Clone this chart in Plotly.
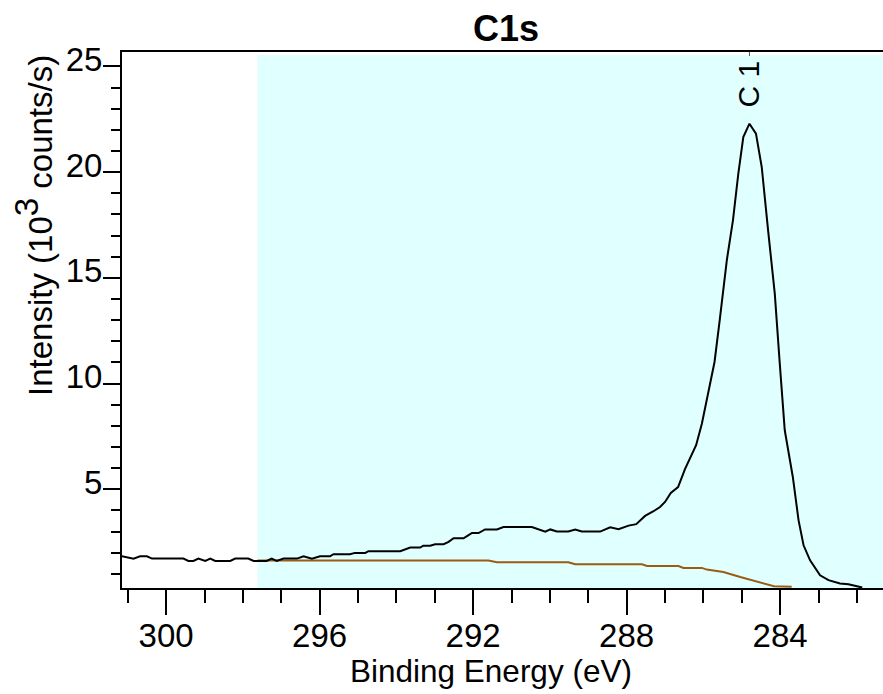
import plotly.graph_objects as go

# Spectrum (binding energy in eV, intensity in 10^3 counts/s)
energy = [301.15, 300.85, 300.68, 300.50, 300.37, 299.55, 299.42, 299.29, 299.16, 298.98,
          298.85, 298.72, 298.33, 298.20, 297.86, 297.72, 297.38, 297.25, 297.12, 296.94,
          296.59, 296.42, 296.20, 295.99, 295.73, 295.64, 295.21, 295.08, 294.81, 294.73,
          293.90, 293.64, 293.38, 293.30, 293.12, 292.99, 292.77, 292.64, 292.51, 292.25,
          292.16, 292.03, 291.86, 291.69, 291.38, 291.21, 290.47, 290.31, 290.12, 289.99,
          289.82, 289.52, 289.34, 289.17, 288.69, 288.43, 288.21, 287.95, 287.75, 287.52,
          287.39, 287.30, 287.13, 287.00, 286.85, 286.66, 286.48, 286.19, 286.04, 285.87,
          285.71, 285.57, 285.39, 285.23, 285.09, 284.96, 284.80, 284.63, 284.48, 284.31,
          284.14, 284.01, 283.88, 283.67, 283.52, 283.39, 283.22, 282.96, 282.74, 282.44,
          282.22, 282.00, 281.86]
intensity = [1.83, 1.72, 1.83, 1.83, 1.72, 1.72, 1.61, 1.61, 1.72, 1.61,
             1.72, 1.61, 1.61, 1.72, 1.72, 1.61, 1.61, 1.72, 1.61, 1.72,
             1.72, 1.83, 1.72, 1.83, 1.83, 1.93, 1.93, 1.99, 1.99, 2.07,
             2.07, 2.24, 2.24, 2.33, 2.33, 2.40, 2.40, 2.51, 2.68, 2.68,
             2.78, 2.93, 2.93, 3.10, 3.10, 3.21, 3.21, 3.10, 2.99, 3.10,
             3.00, 3.00, 3.10, 3.00, 3.00, 3.20, 3.11, 3.28, 3.35, 3.74,
             3.85, 3.96, 4.16, 4.40, 4.83, 5.10, 5.95, 7.08, 8.10, 9.60,
             11.02, 13.07, 15.83, 17.72, 19.93, 21.66, 22.29, 21.82, 20.24, 17.17,
             14.25, 10.94, 7.79, 5.58, 3.53, 2.35, 1.64, 0.93, 0.70, 0.54,
             0.51, 0.41, 0.35]

# Shirley-type background
bg_energy = [297.62, 291.60, 291.38, 289.52, 289.34, 287.60, 287.47, 286.65, 286.52, 286.04,
             285.91, 285.74, 285.48, 285.04, 284.60, 284.16, 283.70]
bg_intensity = [1.63, 1.63, 1.55, 1.55, 1.45, 1.45, 1.37, 1.37, 1.28, 1.28,
                1.20, 1.17, 1.09, 0.85, 0.62, 0.41, 0.39]

region = [297.62, 281.32]
x_range = [301.15, 281.32]
y_range = [0.33, 25.68]
x_ticks = [300, 296, 292, 288, 284]
y_ticks = [5, 10, 15, 20, 25]
peak_label = "C 1"
peak_pos = 284.80

FONT = "Liberation Sans, Arial, sans-serif"
W, H = 883, 694
L, R, T, B = 122, 0, 52, 106
pw, ph = W - L - R, H - T - B


def px(x):
    return (x - L) / pw


def py(y):
    return (H - B - y) / ph


fig = go.Figure()
fig.add_trace(go.Scatter(x=bg_energy, y=bg_intensity, mode="lines",
                         line=dict(color="#9B5B12", width=2), showlegend=False))
fig.add_trace(go.Scatter(x=energy, y=intensity, mode="lines",
                         line=dict(color="black", width=2), showlegend=False))

fig.add_shape(type="rect", xref="x", yref="paper", x0=region[0], x1=region[1],
              y0=0, y1=py(55), fillcolor="#E0FFFF", line=dict(width=0), layer="below")
# small peak marker on the top frame
fig.add_shape(type="line", xref="x", yref="paper", x0=peak_pos, x1=peak_pos,
              y0=py(56), y1=1, line=dict(color="#555555", width=1))

fig.update_layout(
    width=W, height=H,
    margin=dict(l=L, r=R, t=T, b=B),
    paper_bgcolor="white", plot_bgcolor="white",
    font=dict(family=FONT, color="black", size=32),
    showlegend=False,
    xaxis=dict(range=x_range, tickvals=x_ticks, ticks="outside", ticklen=25, tickwidth=2,
               tickcolor="black", showline=True, linewidth=2, linecolor="black", mirror=True,
               showgrid=False, zeroline=False, tickfont=dict(size=33), ticklabelstandoff=-8,
               minor=dict(dtick=1, ticks="outside", ticklen=13, tickwidth=2, tickcolor="black",
                          showgrid=False)),
    yaxis=dict(range=y_range, tickvals=y_ticks, ticks="outside", ticklen=17, tickwidth=2,
               tickcolor="black", showline=True, linewidth=2, linecolor="black",
               showgrid=False, zeroline=False, tickfont=dict(size=33), ticklabelshift=-7,
               ticklabelstandoff=-6,
               minor=dict(dtick=1, ticks="outside", ticklen=9, tickwidth=2, tickcolor="black",
                          showgrid=False)),
)

fig.add_annotation(text="<b>C1s</b>", xref="paper", yref="paper", x=px(506), y=py(29),
                   showarrow=False, font=dict(size=36), xanchor="center", yanchor="middle")
fig.add_annotation(text="Binding Energy (eV)", xref="paper", yref="paper", x=px(491), y=py(671),
                   showarrow=False, font=dict(size=31.5), xanchor="center", yanchor="middle")
fig.add_annotation(text="Intensity (10<sup><span style='font-size:33px'>3</span></sup> counts/s)",
                   xref="paper", yref="paper",
                   x=px(33), y=py(226), textangle=-90, showarrow=False, font=dict(size=33),
                   xanchor="center", yanchor="middle")
fig.add_annotation(text=peak_label, xref="x", yref="paper", x=peak_pos, y=py(84),
                   textangle=-90, showarrow=False, font=dict(size=30),
                   xanchor="center", yanchor="middle")

fig.write_html("out.html", config={"displayModeBar": False},
               post_script="document.body.style.margin='0';document.body.style.overflow='hidden';")
